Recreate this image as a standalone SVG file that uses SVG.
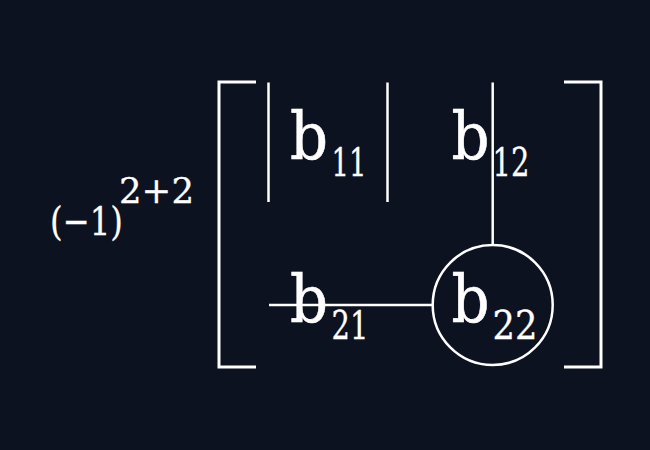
<svg xmlns="http://www.w3.org/2000/svg" width="650" height="450" viewBox="0 0 650 450">
  <style>
    .t { font-family: "DejaVu Serif", serif; fill: #ffffff; stroke: #ffffff; }
    .big { font-size: 66px; stroke-width: 0.6; }
    .sub { font-size: 40px; stroke-width: 0.3; }
    .sup { font-size: 36px; stroke-width: 0.3; }
    .line { stroke: #ffffff; stroke-width: 2.5; fill: none; }
    .br { stroke: #ffffff; stroke-width: 3; fill: none; }
  </style>
  <rect x="0" y="0" width="650" height="450" fill="#0d1221"/>
  <g id="prefactor">
    <text class="t sub" x="50" y="235" textLength="73" lengthAdjust="spacingAndGlyphs">(−1)</text>
    <text class="t sup" x="119" y="203" textLength="75" lengthAdjust="spacingAndGlyphs">2+2</text>
  </g>
  <g id="brackets">
    <polyline class="br" points="256,82 219,82 219,367 256,367"/>
    <polyline class="br" points="564,82 601,82 601,367 564,367"/>
  </g>
  <g id="connectors">
    <line class="line" x1="268.5" y1="82.5" x2="268.5" y2="202"/>
    <line class="line" x1="387.5" y1="82.5" x2="387.5" y2="202"/>
    <line class="line" x1="492.7" y1="82.5" x2="492.7" y2="245"/>
    <line class="line" x1="269" y1="305" x2="432.7" y2="305"/>
  </g>
  <g id="b11">
    <text class="t big" x="290" y="159" textLength="38" lengthAdjust="spacingAndGlyphs">b</text>
    <text class="t sub" x="331.5" y="176" textLength="35" lengthAdjust="spacingAndGlyphs">11</text>
  </g>
  <g id="b12">
    <text class="t big" x="451.5" y="159" textLength="38" lengthAdjust="spacingAndGlyphs">b</text>
    <text class="t sub" x="492.5" y="176" textLength="37" lengthAdjust="spacingAndGlyphs">12</text>
  </g>
  <g id="b21">
    <text class="t big" x="290" y="321.5" textLength="38" lengthAdjust="spacingAndGlyphs">b</text>
    <text class="t sub" x="331.5" y="339" textLength="37" lengthAdjust="spacingAndGlyphs">21</text>
  </g>
  <g id="b22">
    <circle class="line" cx="492.7" cy="305" r="60"/>
    <text class="t big" x="451.5" y="321.5" textLength="38" lengthAdjust="spacingAndGlyphs">b</text>
    <text class="t sub" x="492.5" y="339" textLength="45" lengthAdjust="spacingAndGlyphs">22</text>
  </g>
</svg>
